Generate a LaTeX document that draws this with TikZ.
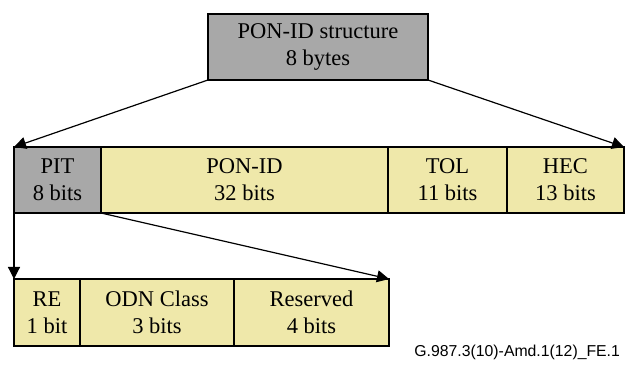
\documentclass[tikz,border=0pt]{standalone}
\usepackage{fontspec}
\setmainfont{Liberation Serif}
\newfontfamily\figfont{Liberation Sans}
\usepackage{tikz}
\usetikzlibrary{arrows.meta, positioning}
\definecolor{fieldGray}{HTML}{A8A8A8}
\definecolor{fieldYellow}{HTML}{EFE8AA}

\begin{document}
\begin{tikzpicture}[
  x=0.5pt, y=-0.5pt,
  font=\fontsize{11.25}{13.5}\selectfont,
  cell/.style={draw, line width=0.7pt, inner sep=0pt, outer sep=0pt, align=center,
               minimum height=33pt, fill=fieldYellow},
  head/.style={cell, fill=fieldGray},
  a/.style={-{Triangle[length=6pt, width=6pt]}, line width=0.6pt}
]
\useasboundingbox (0,0) rectangle (629,367);

\node[head, minimum width=110pt] (title) at (318,47) {PON-ID structure\\8 bytes};

\node[head, minimum width=43.5pt, anchor=north west] (pit) at (14,147) {PIT\\8 bits};
\node[cell, minimum width=143.5pt, right=0pt of pit] (ponid) {PON-ID\\32 bits};
\node[cell, minimum width=59.5pt, right=0pt of ponid] (tol) {TOL\\11 bits};
\node[cell, minimum width=58.5pt, right=0pt of tol] (hec) {HEC\\13 bits};

\node[cell, minimum width=33pt, minimum height=33.5pt, anchor=north west] (re) at (14,279) {RE\\1 bit};
\node[cell, minimum width=77pt, minimum height=33.5pt, right=0pt of re] (odn) {ODN Class\\3 bits};
\node[cell, minimum width=77.5pt, minimum height=33.5pt, right=0pt of odn] (reserved) {Reserved\\4 bits};

\node[anchor=base east, font=\figfont\fontsize{7.9}{9}\selectfont] (figid) at (627,357) {G.987.3(10)-Amd.1(12)\_FE.1};

\draw[a] (title.south west) -- (pit.north west);
\draw[a] (title.south east) -- (hec.north east);
\draw[a] (pit.south west) -- (re.north west);
\draw[a] (pit.south east) -- (reserved.north east);

\end{tikzpicture}
\end{document}
